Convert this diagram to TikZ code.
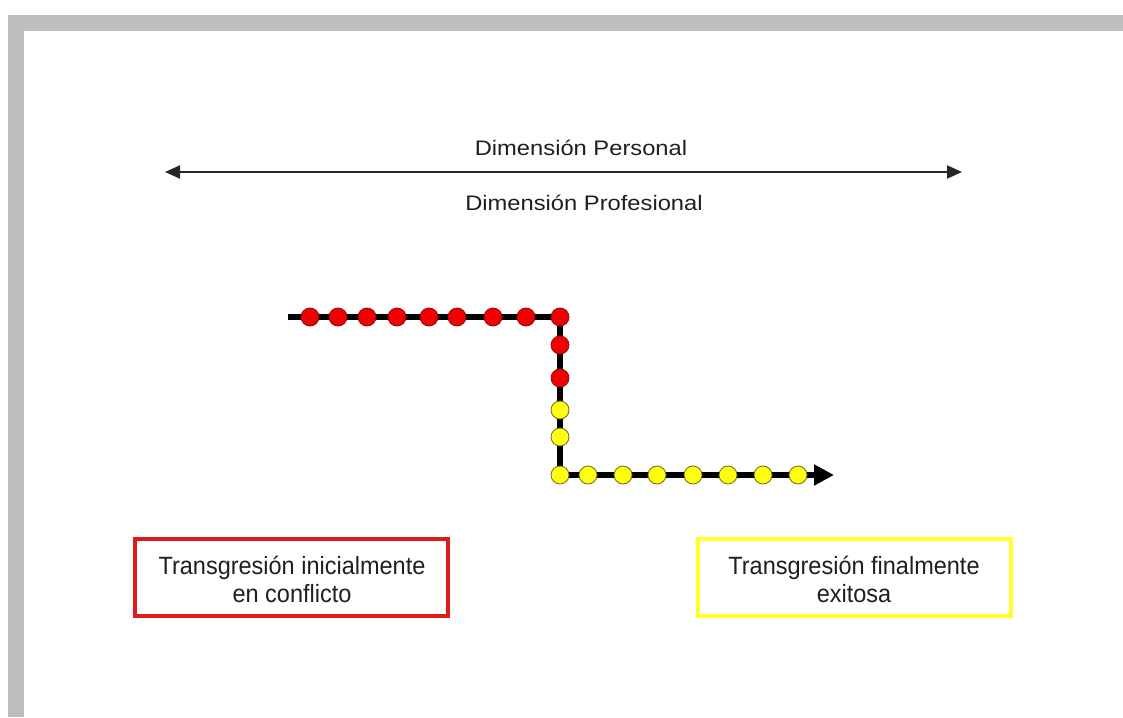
\documentclass[tikz,border=0pt]{standalone}
\usepackage{fontspec}
\setmainfont{Liberation Sans}
\usetikzlibrary{arrows.meta}
\definecolor{bandgray}{HTML}{BEBEBE}
\definecolor{dotred}{HTML}{F00000}
\definecolor{dotredline}{HTML}{8A1010}
\definecolor{dotyellow}{HTML}{FFFF10}
\definecolor{dotyellowline}{HTML}{6E6A10}
\definecolor{boxred}{HTML}{E01A1A}
\definecolor{boxyellow}{HTML}{FFFF30}
\begin{document}
\begin{tikzpicture}[x=1pt,y=-1pt,
  lbl/.style={anchor=base,inner sep=0pt,font=\fontsize{21}{25}\selectfont,text=black!88},
  dimarrow/.style={line width=2pt,black!85,{Triangle[length=15pt,width=13pt]}-{Triangle[length=15pt,width=13pt]}},
  track/.style={line width=6pt,black,-{Triangle[length=20pt,width=20pt]}},
  rdot/.style={circle,minimum size=18pt,inner sep=0pt,fill=dotred,draw=dotredline,line width=0.8pt},
  ydot/.style={circle,minimum size=18pt,inner sep=0pt,fill=dotyellow,draw=dotyellowline,line width=0.8pt},
  tbox/.style={rectangle,minimum width=313pt,minimum height=77pt,inner sep=0pt,line width=4pt,fill=white},
  btxt/.style={inner sep=0pt,font=\fontsize{25}{28}\selectfont,text=black!88,align=center}
]
\useasboundingbox (0,0) rectangle (1123,717);
\fill[white] (0,0) rectangle (1123,717);
\fill[bandgray] (8,15) rectangle (1123,31);
\fill[bandgray] (8,15) rectangle (24,717);

% dimension axis
\coordinate (al) at (165,172);
\coordinate (ar) at (962,172);
\draw[dimarrow] (al) -- (ar);
\node[lbl] (pers) at (581,155) {\scalebox{1.13}[1]{Dimensión Personal}};
\node[lbl] (prof) at (584,210) {\scalebox{1.13}[1]{Dimensión Profesional}};

% track
\coordinate (ts) at (288,317);
\coordinate (c1) at (560,317);
\coordinate (c2) at (560,475);
\coordinate (te) at (834,475);
\draw[track] (ts) -- (c1) -- (c2) -- (te);

% red dots
\foreach \x [count=\i] in {310,338,367,397,429,457,493,526,560}
  \node[rdot] (r\i) at (\x,317) {};
\foreach \y [count=\i] in {345,378}
  \node[rdot] (rv\i) at (560,\y) {};
% yellow dots
\foreach \y [count=\i] in {410,437}
  \node[ydot] (yv\i) at (560,\y) {};
\foreach \x [count=\i] in {560,588,623,657,693,728,763,798}
  \node[ydot] (y\i) at (\x,475) {};

% boxes
\node[tbox,draw=boxred] (rbox) at (291.5,577.5) {};
\node[btxt] (rtxt) at (292,583) {\scalebox{0.94}[1]{\begin{tabular}{@{}c@{}}Transgresión inicialmente\\en conflicto\end{tabular}}};
\node[tbox,draw=boxyellow] (ybox) at (854,577.5) {};
\node[btxt] (ytxt) at (854,583) {\scalebox{0.94}[1]{\begin{tabular}{@{}c@{}}Transgresión finalmente\\exitosa\end{tabular}}};
\end{tikzpicture}
\end{document}
